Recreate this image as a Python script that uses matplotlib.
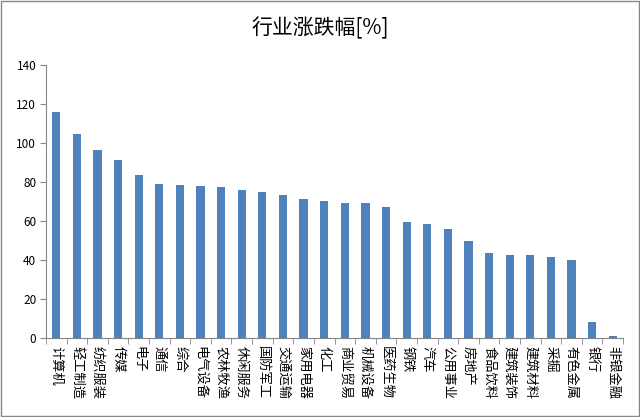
import matplotlib.pyplot as plt
from matplotlib.patches import Rectangle
import numpy as np

plt.rcParams['font.family'] = ['Noto Sans CJK SC', 'DejaVu Sans']

# --- Data ---
industries = ['计算机', '轻工制造', '纺织服装', '传媒', '电子', '通信', '综合', '电气设备',
              '农林牧渔', '休闲服务', '国防军工', '交通运输', '家用电器', '化工', '商业贸易',
              '机械设备', '医药生物', '钢铁', '汽车', '公用事业', '房地产', '食品饮料',
              '建筑装饰', '建筑材料', '采掘', '有色金属', '银行', '非银金融']
change_pct = [115.9, 104.6, 96.4, 91.3, 83.6, 79.0, 78.5, 78.0,
              77.4, 75.9, 74.9, 73.3, 71.3, 70.3, 69.2,
              69.2, 67.2, 59.5, 58.5, 55.9, 49.7, 43.6,
              42.6, 42.6, 41.5, 40.0, 8.2, 1.0]
y_ticks = [0, 20, 40, 60, 80, 100, 120, 140]

# --- Figure ---
W, H = 640, 417
fig = plt.figure(figsize=(W / 100, H / 100), dpi=100)
ax = fig.add_axes([46 / W, 1 - 338 / H, (623 - 46) / W, (338 - 65) / H])

x = np.arange(len(industries))
ax.bar(x, change_pct, width=0.4, color='#4f81bd')

ax.set_xlim(-0.5, len(industries) - 0.5)
ax.set_ylim(0, 140)
ax.set_yticks(y_ticks)
ax.tick_params(axis='y', labelsize=8.5, length=4, color='#868686', pad=3)

# category labels, read top to bottom
ax.set_xticks(x)
ax.set_xticklabels(industries, rotation=270, fontsize=9.5, va='top', ha='center')
ax.tick_params(axis='x', length=0, pad=6)
# tick marks at category boundaries
ax.set_xticks(np.arange(-0.5, len(industries)), minor=True)
ax.tick_params(axis='x', which='minor', length=4, color='#868686')

for s in ['top', 'right']:
    ax.spines[s].set_visible(False)
for s in ['left', 'bottom']:
    ax.spines[s].set_color('#868686')

fig.text(0.5, 1 - 28 / H, '行业涨跌幅[%]', ha='center', va='center', fontsize=15)

# outer frame
fig.patches.append(Rectangle((1 / W, 1 / H), 1 - 2 / W, 1 - 2 / H, transform=fig.transFigure,
                             fill=False, edgecolor='#868686', linewidth=1))

fig.savefig('out.png', dpi=100)
